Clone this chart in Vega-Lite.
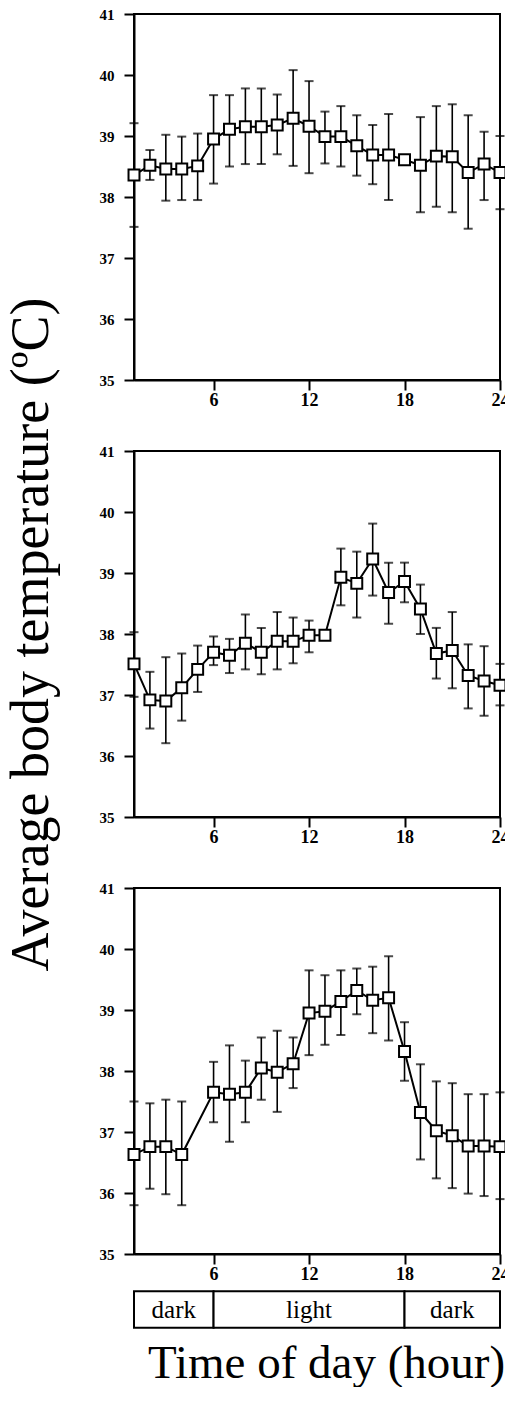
{
  "$schema": "https://vega.github.io/schema/vega-lite/v6.json",
  "padding": {"left": 2, "top": 6, "right": 0, "bottom": 0},
  "background": "white",
  "bounds": "flush",
  "spacing": 71,
  "datasets": {
    "temps": [
      {"panel":"A","hour":1,"temp":38.36,"lo":37.51,"hi":39.21},
      {"panel":"A","hour":2,"temp":38.52,"lo":38.28,"hi":38.77},
      {"panel":"A","hour":3,"temp":38.46,"lo":37.94,"hi":39.02},
      {"panel":"A","hour":4,"temp":38.46,"lo":37.95,"hi":38.99},
      {"panel":"A","hour":5,"temp":38.51,"lo":37.95,"hi":39.04},
      {"panel":"A","hour":6,"temp":38.95,"lo":38.22,"hi":39.67},
      {"panel":"A","hour":7,"temp":39.11,"lo":38.50,"hi":39.67},
      {"panel":"A","hour":8,"temp":39.15,"lo":38.54,"hi":39.78},
      {"panel":"A","hour":9,"temp":39.15,"lo":38.54,"hi":39.78},
      {"panel":"A","hour":10,"temp":39.18,"lo":38.70,"hi":39.68},
      {"panel":"A","hour":11,"temp":39.29,"lo":38.51,"hi":40.08},
      {"panel":"A","hour":12,"temp":39.16,"lo":38.39,"hi":39.90},
      {"panel":"A","hour":13,"temp":38.99,"lo":38.55,"hi":39.40},
      {"panel":"A","hour":14,"temp":38.99,"lo":38.50,"hi":39.49},
      {"panel":"A","hour":15,"temp":38.84,"lo":38.35,"hi":39.34},
      {"panel":"A","hour":16,"temp":38.69,"lo":38.21,"hi":39.18},
      {"panel":"A","hour":17,"temp":38.69,"lo":37.95,"hi":39.36},
      {"panel":"A","hour":18,"temp":38.61,"lo":38.61,"hi":38.61},
      {"panel":"A","hour":19,"temp":38.52,"lo":37.75,"hi":39.31},
      {"panel":"A","hour":20,"temp":38.67,"lo":37.84,"hi":39.49},
      {"panel":"A","hour":21,"temp":38.66,"lo":37.75,"hi":39.52},
      {"panel":"A","hour":22,"temp":38.40,"lo":37.48,"hi":39.34},
      {"panel":"A","hour":23,"temp":38.54,"lo":37.95,"hi":39.07},
      {"panel":"A","hour":24,"temp":38.40,"lo":37.80,"hi":39.00},
      {"panel":"B","hour":1,"temp":37.51,"lo":36.97,"hi":38.03},
      {"panel":"B","hour":2,"temp":36.92,"lo":36.45,"hi":37.38},
      {"panel":"B","hour":3,"temp":36.90,"lo":36.21,"hi":37.62},
      {"panel":"B","hour":4,"temp":37.12,"lo":36.58,"hi":37.68},
      {"panel":"B","hour":5,"temp":37.42,"lo":37.05,"hi":37.81},
      {"panel":"B","hour":6,"temp":37.70,"lo":37.49,"hi":37.96},
      {"panel":"B","hour":7,"temp":37.65,"lo":37.36,"hi":37.92},
      {"panel":"B","hour":8,"temp":37.85,"lo":37.42,"hi":38.32},
      {"panel":"B","hour":9,"temp":37.70,"lo":37.34,"hi":38.10},
      {"panel":"B","hour":10,"temp":37.88,"lo":37.42,"hi":38.36},
      {"panel":"B","hour":11,"temp":37.88,"lo":37.52,"hi":38.27},
      {"panel":"B","hour":12,"temp":37.98,"lo":37.70,"hi":38.22},
      {"panel":"B","hour":13,"temp":37.98,"lo":37.98,"hi":37.98},
      {"panel":"B","hour":14,"temp":38.93,"lo":38.47,"hi":39.40},
      {"panel":"B","hour":15,"temp":38.83,"lo":38.27,"hi":39.35},
      {"panel":"B","hour":16,"temp":39.23,"lo":38.63,"hi":39.81},
      {"panel":"B","hour":17,"temp":38.68,"lo":38.17,"hi":39.17},
      {"panel":"B","hour":18,"temp":38.86,"lo":38.52,"hi":39.17},
      {"panel":"B","hour":19,"temp":38.41,"lo":38.00,"hi":38.81},
      {"panel":"B","hour":20,"temp":37.68,"lo":37.27,"hi":38.10},
      {"panel":"B","hour":21,"temp":37.73,"lo":37.11,"hi":38.36},
      {"panel":"B","hour":22,"temp":37.32,"lo":36.78,"hi":37.83},
      {"panel":"B","hour":23,"temp":37.23,"lo":36.66,"hi":37.80},
      {"panel":"B","hour":24,"temp":37.16,"lo":36.83,"hi":37.51},
      {"panel":"C","hour":1,"temp":36.63,"lo":35.80,"hi":37.50},
      {"panel":"C","hour":2,"temp":36.76,"lo":36.07,"hi":37.47},
      {"panel":"C","hour":3,"temp":36.76,"lo":35.98,"hi":37.53},
      {"panel":"C","hour":4,"temp":36.63,"lo":35.80,"hi":37.50},
      {"panel":"C","hour":6,"temp":37.65,"lo":37.16,"hi":38.15},
      {"panel":"C","hour":7,"temp":37.62,"lo":36.84,"hi":38.42},
      {"panel":"C","hour":8,"temp":37.65,"lo":37.16,"hi":38.17},
      {"panel":"C","hour":9,"temp":38.05,"lo":37.53,"hi":38.55},
      {"panel":"C","hour":10,"temp":37.98,"lo":37.33,"hi":38.66},
      {"panel":"C","hour":11,"temp":38.12,"lo":37.72,"hi":38.55},
      {"panel":"C","hour":12,"temp":38.95,"lo":38.26,"hi":39.65},
      {"panel":"C","hour":13,"temp":38.98,"lo":38.43,"hi":39.57},
      {"panel":"C","hour":14,"temp":39.14,"lo":38.59,"hi":39.65},
      {"panel":"C","hour":15,"temp":39.32,"lo":38.93,"hi":39.68},
      {"panel":"C","hour":16,"temp":39.16,"lo":38.62,"hi":39.71},
      {"panel":"C","hour":17,"temp":39.20,"lo":38.50,"hi":39.88},
      {"panel":"C","hour":18,"temp":38.32,"lo":37.84,"hi":38.80},
      {"panel":"C","hour":19,"temp":37.32,"lo":36.55,"hi":38.11},
      {"panel":"C","hour":20,"temp":37.02,"lo":36.24,"hi":37.83},
      {"panel":"C","hour":21,"temp":36.94,"lo":36.08,"hi":37.80},
      {"panel":"C","hour":22,"temp":36.77,"lo":35.99,"hi":37.62},
      {"panel":"C","hour":23,"temp":36.77,"lo":35.95,"hi":37.62},
      {"panel":"C","hour":24,"temp":36.76,"lo":35.90,"hi":37.65}
    ],
    "phases": [
      {"start":1,"end":6,"mid":3.5,"phase":"dark"},
      {"start":6,"end":18,"mid":12,"phase":"light"},
      {"start":18,"end":24,"mid":21,"phase":"dark"}
    ]
  },
  "vconcat": [
    {
      "width": 366, "height": 366,
      "data": {"name": "temps"},
      "transform": [{"filter": "datum.panel === 'A'"}],
      "encoding": {
        "x": {"field": "hour", "type": "quantitative", "scale": {"domain": [1, 24], "nice": false, "zero": false}, "axis": {"values": [6, 12, 18, 24], "title": null}}
      },
      "layer": [
        {"mark": {"type": "errorbar", "color": "black", "ticks": {"size": 9, "thickness": 2, "color": "black"}, "rule": {"strokeWidth": 1.6, "color": "black"}},
         "encoding": {"y": {"field": "lo", "type": "quantitative", "scale": {"domain": [35, 41], "nice": false, "zero": false}, "axis": {"values": [35,36,37,38,39,40,41], "format": "d", "title": null}}, "y2": {"field": "hi"}}},
        {"mark": {"type": "line", "color": "black", "strokeWidth": 2},
         "encoding": {"y": {"field": "temp", "type": "quantitative", "title": null}}},
        {"mark": {"type": "point", "shape": "square", "filled": true, "fill": "white", "stroke": "black", "strokeWidth": 2, "size": 120, "opacity": 1},
         "encoding": {"y": {"field": "temp", "type": "quantitative", "title": null}}},
        {"data": {"values": [{"label": "A"}]},
         "mark": {"type": "text", "font": "Liberation Serif", "fontWeight": "bold", "fontSize": 26, "color": "black", "baseline": "middle", "align": "center"},
         "encoding": {"x": {"datum": 22.3}, "y": {"datum": 40.42}, "text": {"field": "label"}}}
      ]
    },
    {
      "width": 366, "height": 366,
      "data": {"name": "temps"},
      "transform": [{"filter": "datum.panel === 'B'"}],
      "encoding": {
        "x": {"field": "hour", "type": "quantitative", "scale": {"domain": [1, 24], "nice": false, "zero": false}, "axis": {"values": [6, 12, 18, 24], "title": null}}
      },
      "layer": [
        {"mark": {"type": "errorbar", "color": "black", "ticks": {"size": 9, "thickness": 2, "color": "black"}, "rule": {"strokeWidth": 1.6, "color": "black"}},
         "encoding": {"y": {"field": "lo", "type": "quantitative", "scale": {"domain": [35, 41], "nice": false, "zero": false}, "axis": {"values": [35,36,37,38,39,40,41], "format": "d", "title": "Average body temperature (ºC)"}}, "y2": {"field": "hi"}}},
        {"mark": {"type": "line", "color": "black", "strokeWidth": 2},
         "encoding": {"y": {"field": "temp", "type": "quantitative", "title": "Average body temperature (ºC)"}}},
        {"mark": {"type": "point", "shape": "square", "filled": true, "fill": "white", "stroke": "black", "strokeWidth": 2, "size": 120, "opacity": 1},
         "encoding": {"y": {"field": "temp", "type": "quantitative", "title": "Average body temperature (ºC)"}}},
        {"data": {"values": [{"label": "B"}]},
         "mark": {"type": "text", "font": "Liberation Serif", "fontWeight": "bold", "fontSize": 26, "color": "black", "baseline": "middle", "align": "center"},
         "encoding": {"x": {"datum": 22.3}, "y": {"datum": 40.42}, "text": {"field": "label"}}}
      ]
    },
    {
      "width": 366, "height": 366,
      "data": {"name": "temps"},
      "transform": [{"filter": "datum.panel === 'C'"}],
      "encoding": {
        "x": {"field": "hour", "type": "quantitative", "scale": {"domain": [1, 24], "nice": false, "zero": false}, "axis": {"values": [6, 12, 18, 24], "title": "Time of day (hour)", "titleFontSize": 47, "titlePadding": 57, "titleX": 192}}
      },
      "layer": [
        {"mark": {"type": "errorbar", "color": "black", "ticks": {"size": 9, "thickness": 2, "color": "black"}, "rule": {"strokeWidth": 1.6, "color": "black"}},
         "encoding": {"y": {"field": "lo", "type": "quantitative", "scale": {"domain": [35, 41], "nice": false, "zero": false}, "axis": {"values": [35,36,37,38,39,40,41], "format": "d", "title": null}}, "y2": {"field": "hi"}}},
        {"mark": {"type": "line", "color": "black", "strokeWidth": 2},
         "encoding": {"y": {"field": "temp", "type": "quantitative", "title": null}}},
        {"mark": {"type": "point", "shape": "square", "filled": true, "fill": "white", "stroke": "black", "strokeWidth": 2, "size": 120, "opacity": 1},
         "encoding": {"y": {"field": "temp", "type": "quantitative", "title": null}}},
        {"data": {"values": [{"label": "C"}]},
         "mark": {"type": "text", "font": "Liberation Serif", "fontWeight": "bold", "fontSize": 26, "color": "black", "baseline": "middle", "align": "center"},
         "encoding": {"x": {"datum": 22.3}, "y": {"datum": 40.42}, "text": {"field": "label"}}},
        {"data": {"name": "phases"},
         "mark": {"type": "rect", "fill": "white", "stroke": "black", "strokeWidth": 2},
         "encoding": {"x": {"field": "start", "type": "quantitative"}, "x2": {"field": "end"}, "y": {"datum": 34.39}, "y2": {"datum": 33.79}}},
        {"data": {"name": "phases"},
         "mark": {"type": "text", "font": "Liberation Serif", "fontSize": 25, "color": "black", "baseline": "middle", "align": "center"},
         "encoding": {"x": {"field": "mid", "type": "quantitative"}, "y": {"datum": 34.08}, "text": {"field": "phase"}}}
      ]
    }
  ],
  "config": {
    "view": {"stroke": "black", "strokeWidth": 2},
    "axis": {
      "grid": false,
      "domainColor": "black", "domainWidth": 2,
      "tickColor": "black", "tickWidth": 2, "tickSize": 10,
      "labelFont": "Liberation Serif", "labelFontWeight": "bold", "labelFontSize": 15, "labelColor": "black",
      "titleFont": "Liberation Serif", "titleFontWeight": "normal", "titleColor": "black"
    },
    "axisX": {"labelPadding": 1, "labelFlush": false, "labelFontSize": 18},
    "axisY": {"labelPadding": 10, "titleFontSize": 54, "titlePadding": 41}
  }
}
